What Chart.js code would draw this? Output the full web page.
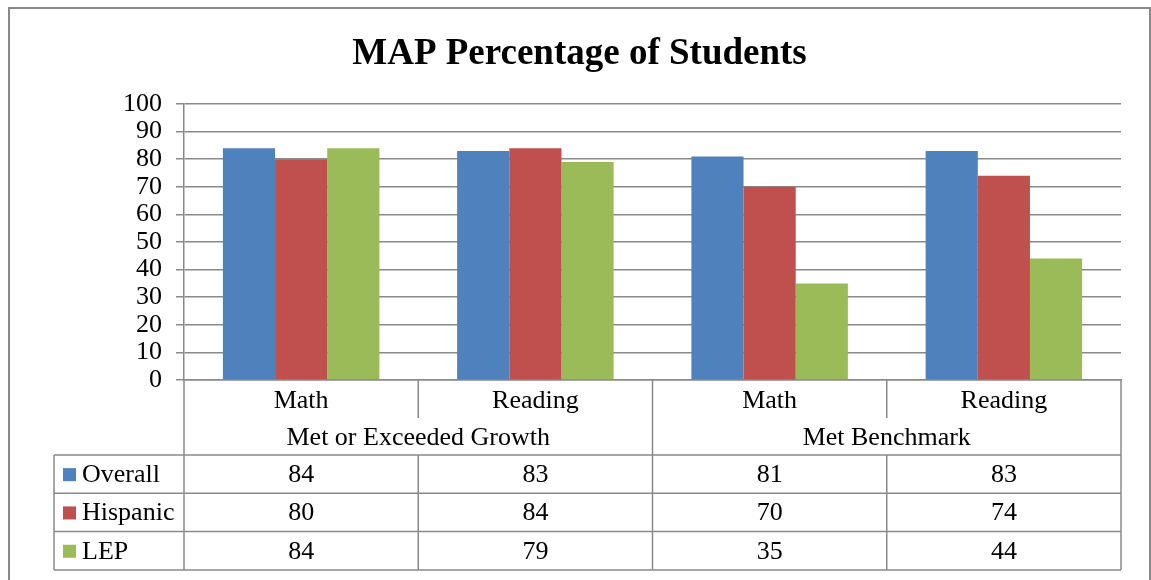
<!DOCTYPE html>
<html>
<head>
<meta charset="utf-8">
<script src="https://cdn.jsdelivr.net/npm/chart.js@4/dist/chart.umd.min.js"></script>
<style>
  html, body { margin: 0; padding: 0; background: #fff; }
  #wrap { width: 1151px; height: 580px; }
</style>
</head>
<body>
<div id="wrap"><canvas id="chart" width="1151" height="580"></canvas></div>
<script>
// Данные диаграммы
const categories = ["Math", "Reading", "Math", "Reading"]
const groups = ["Met or Exceeded Growth", "Met Benchmark"]
const seriesNames = ["Overall", "Hispanic", "LEP"]
const overall = [84, 83, 81, 83]
const hispanic = [80, 84, 70, 74]
const lep = [84, 79, 35, 44]
const colors = ["#4F81BD", "#C0504D", "#9BBB59"]

const FONT = "'Liberation Serif', 'Times New Roman', serif"
const LINE = "#8a8a8a"

// Рамка вокруг всей диаграммы
const framePlugin = {
  id: "frame",
  afterDraw(chart) {
    const ctx = chart.ctx
    ctx.save()
    ctx.strokeStyle = LINE
    ctx.lineWidth = 2
    ctx.strokeRect(9, 8, 1141, 600)
    ctx.restore()
  }
}

// Таблица данных под осью X, как в Excel
const dataTablePlugin = {
  id: "dataTable",
  afterDraw(chart) {
    const ctx = chart.ctx
    const area = chart.chartArea
    const x = chart.scales.x
    const series = [overall, hispanic, lep]
    const n = categories.length
    const colW = (area.right - area.left) / n
    const top = area.bottom
    const headBottom = top + 75
    const rowH = 38.3
    const legendLeft = 54

    ctx.save()
    ctx.strokeStyle = LINE
    ctx.lineWidth = 1.5

    // горизонтальные линии
    for (let r = 0; r <= series.length; r++) {
      const y = headBottom + r * rowH
      ctx.beginPath()
      ctx.moveTo(legendLeft, y)
      ctx.lineTo(area.right, y)
      ctx.stroke()
    }
    // левая граница легенды
    ctx.beginPath()
    ctx.moveTo(legendLeft, headBottom)
    ctx.lineTo(legendLeft, headBottom + series.length * rowH)
    ctx.stroke()

    // вертикальные линии
    for (let i = 0; i <= n; i++) {
      const bx = area.left + i * colW
      const full = i % 2 === 0
      ctx.beginPath()
      if (full) {
        ctx.moveTo(bx, top)
        ctx.lineTo(bx, headBottom + series.length * rowH)
      } else {
        ctx.moveTo(bx, top)
        ctx.lineTo(bx, top + 38)
        ctx.moveTo(bx, headBottom)
        ctx.lineTo(bx, headBottom + series.length * rowH)
      }
      ctx.stroke()
    }

    ctx.fillStyle = "#000"
    ctx.font = `26px ${FONT}`
    ctx.textAlign = "center"
    ctx.textBaseline = "middle"

    // подписи категорий и групп
    categories.forEach((c, i) => {
      ctx.fillText(c, x.getPixelForTick(i), top + 21)
    })
    groups.forEach((g, i) => {
      const cx = (x.getPixelForTick(i * 2) + x.getPixelForTick(i * 2 + 1)) / 2
      ctx.fillText(g, cx, top + 58)
    })

    // значения
    series.forEach((vals, r) => {
      const cy = headBottom + r * rowH + rowH / 2 + 1
      vals.forEach((v, i) => {
        ctx.fillText(String(v), x.getPixelForTick(i), cy)
      })
      // ключ легенды
      ctx.fillStyle = colors[r]
      ctx.fillRect(63, cy - 7, 13, 13)
      ctx.fillStyle = "#000"
      ctx.textAlign = "left"
      ctx.fillText(seriesNames[r], 82, cy)
      ctx.textAlign = "center"
    })
    ctx.restore()
  }
}

new Chart(document.getElementById("chart"), {
  type: "bar",
  data: {
    labels: categories,
    datasets: seriesNames.map((name, i) => ({
      label: name,
      data: [overall, hispanic, lep][i],
      backgroundColor: colors[i],
      borderWidth: 0,
      categoryPercentage: 0.668,
      barPercentage: 1
    }))
  },
  options: {
    responsive: false,
    animation: false,
    layout: { padding: { left: 38, right: 30, top: 0, bottom: 0 } },
    plugins: {
      legend: { display: false },
      tooltip: { enabled: false },
      title: {
        display: true,
        text: "MAP Percentage of Students",
        color: "#000",
        font: { family: FONT, size: 37, weight: "bold", lineHeight: 1.2 },
        padding: { top: 32, bottom: 27.6 }
      }
    },
    scales: {
      x: {
        grid: { display: false },
        ticks: { display: false },
        border: { display: true, color: LINE, width: 1.5 },
        afterFit: (scale) => { scale.height = 200 }
      },
      y: {
        min: 0,
        max: 100,
        ticks: {
          stepSize: 10,
          autoSkip: false,
          color: "#000",
          padding: 14,
          font: { family: FONT, size: 26 }
        },
        grid: { color: LINE, lineWidth: 1.5, tickLength: 8, drawTicks: true },
        border: { display: true, color: LINE, width: 1.5 },
        afterFit: (scale) => { scale.width = 146 }
      }
    }
  },
  plugins: [dataTablePlugin, framePlugin]
})
</script>
</body>
</html>
